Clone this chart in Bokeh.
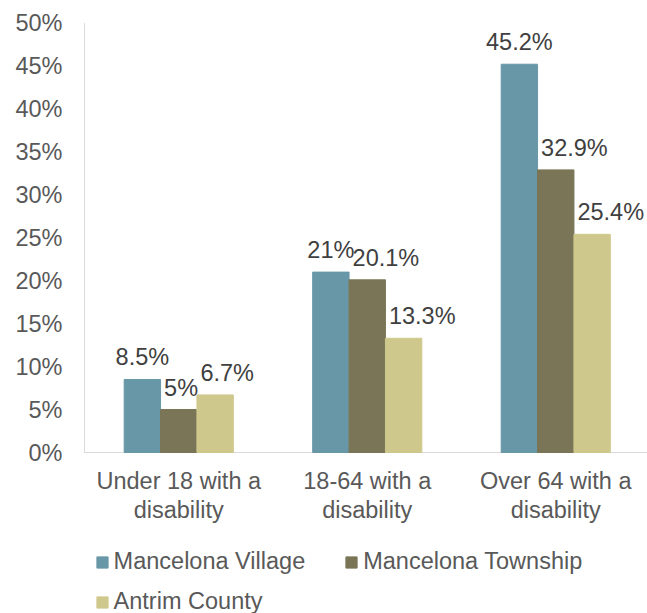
from bokeh.plotting import figure
from bokeh.models import (ColumnDataSource, Range1d, FixedTicker, Legend, LegendItem)
from bokeh.core.properties import value
from bokeh.embed import file_html
from bokeh.resources import INLINE

# ---- data ----
categories = ["Under 18 with a\ndisability", "18-64 with a\ndisability", "Over 64 with a\ndisability"]
series_names = ["Mancelona Village", "Mancelona Township", "Antrim County"]
village = [8.5, 21.0, 45.2]
township = [5.0, 20.1, 32.9]
county = [6.7, 13.3, 25.4]
y_ticks = [0, 5, 10, 15, 20, 25, 30, 35, 40, 45, 50]

# ---- style ----
colors = ["#6897A7", "#7A7556", "#CFC88D"]
FONT = "Liberation Sans"
FS = "23.5px"
TICK_COLOR = "#595959"
LABEL_COLOR = "#404040"
AXIS_COLOR = "#D9D9D9"

W, H = 647, 613
LEFT = 80            # left border (y tick labels)
AXIS_X = 84          # pixel x of the y-axis line
ZERO_Y = 452         # pixel y of 0%
PX_PER_UNIT = 8.59   # pixels per percentage point
CAT_PITCH = 188.5    # pixels per category

p = figure(width=W, height=H, output_backend="svg", toolbar_location=None,
           min_border_left=LEFT, min_border_right=0, min_border_top=0,
           min_border_bottom=0, x_axis_location=None)
p.outline_line_color = None
p.grid.visible = False
p.background_fill_color = "white"
p.border_fill_color = "white"

x0 = -(AXIS_X - LEFT) / CAT_PITCH
p.x_range = Range1d(x0, x0 + (W - LEFT) / CAT_PITCH)
p.y_range = Range1d(-(H - ZERO_Y) / PX_PER_UNIT, ZERO_Y / PX_PER_UNIT)

centers = [i + 0.5 for i in range(len(categories))]
bw = 0.193
offsets = [-bw, 0.0, bw]
all_series = [village, township, county]

# axis lines
p.segment(x0=[0], y0=[0], x1=[0], y1=[max(y_ticks)], line_color=AXIS_COLOR, line_width=1)
p.segment(x0=[0], y0=[0], x1=[p.x_range.end], y1=[0], line_color=AXIS_COLOR, line_width=1)

renderers = []
for k, (vals, col, off) in enumerate(zip(all_series, colors, offsets)):
    xs = [c + off for c in centers]
    src = ColumnDataSource(dict(
        x=xs, top=vals,
        left=[x - bw / 2 for x in xs],
        txt=[f"{v:g}%" for v in vals]))
    r = p.vbar(x="x", top="top", width=bw, bottom=0, source=src,
               fill_color=col, line_color=col)
    renderers.append(r)
    if k == 0:
        p.text(x="x", y="top", text="txt", source=src, text_align="center",
               text_baseline="alphabetic", y_offset=-22, text_font=value(FONT),
               text_font_size=FS, text_color=LABEL_COLOR)
    else:
        p.text(x="left", y="top", text="txt", source=src, text_align="left",
               text_baseline="alphabetic", x_offset=3.5, y_offset=-22,
               text_font=value(FONT), text_font_size=FS, text_color=LABEL_COLOR)

# category labels
cat_src = ColumnDataSource(dict(x=centers, y=[0] * len(centers), txt=categories))
p.text(x="x", y="y", text="txt", source=cat_src, text_align="center",
       text_baseline="top", y_offset=15, text_line_height=1.15,
       text_font=value(FONT), text_font_size=FS, text_color=TICK_COLOR)

# ---- y axis ----
ya = p.yaxis[0]
ya.ticker = FixedTicker(ticks=y_ticks)
ya.major_label_overrides = {t: f"{t}%" for t in y_ticks}
ya.major_tick_line_color = None
ya.minor_tick_line_color = None
ya.axis_line_color = None
ya.major_label_standoff = 12
ya.major_label_text_font = FONT
ya.major_label_text_font_size = FS
ya.major_label_text_color = TICK_COLOR

# ---- legends ----
def make_legend(items, loc):
    return Legend(items=items, location=loc, orientation="horizontal",
                  glyph_width=14, glyph_height=14, label_standoff=5,
                  spacing=39, padding=0, margin=0, label_height=14,
                  border_line_alpha=0, background_fill_alpha=0,
                  label_text_font=FONT, label_text_font_size=FS,
                  label_text_color=TICK_COLOR)

leg1 = make_legend([LegendItem(label=series_names[0], renderers=[renderers[0]]),
                    LegendItem(label=series_names[1], renderers=[renderers[1]])],
                   (14.6, 38))
leg2 = make_legend([LegendItem(label=series_names[2], renderers=[renderers[2]])],
                   (14.6, -2))
p.add_layout(leg1)
p.add_layout(leg2)

open("out.html", "w").write(file_html(p, INLINE))
